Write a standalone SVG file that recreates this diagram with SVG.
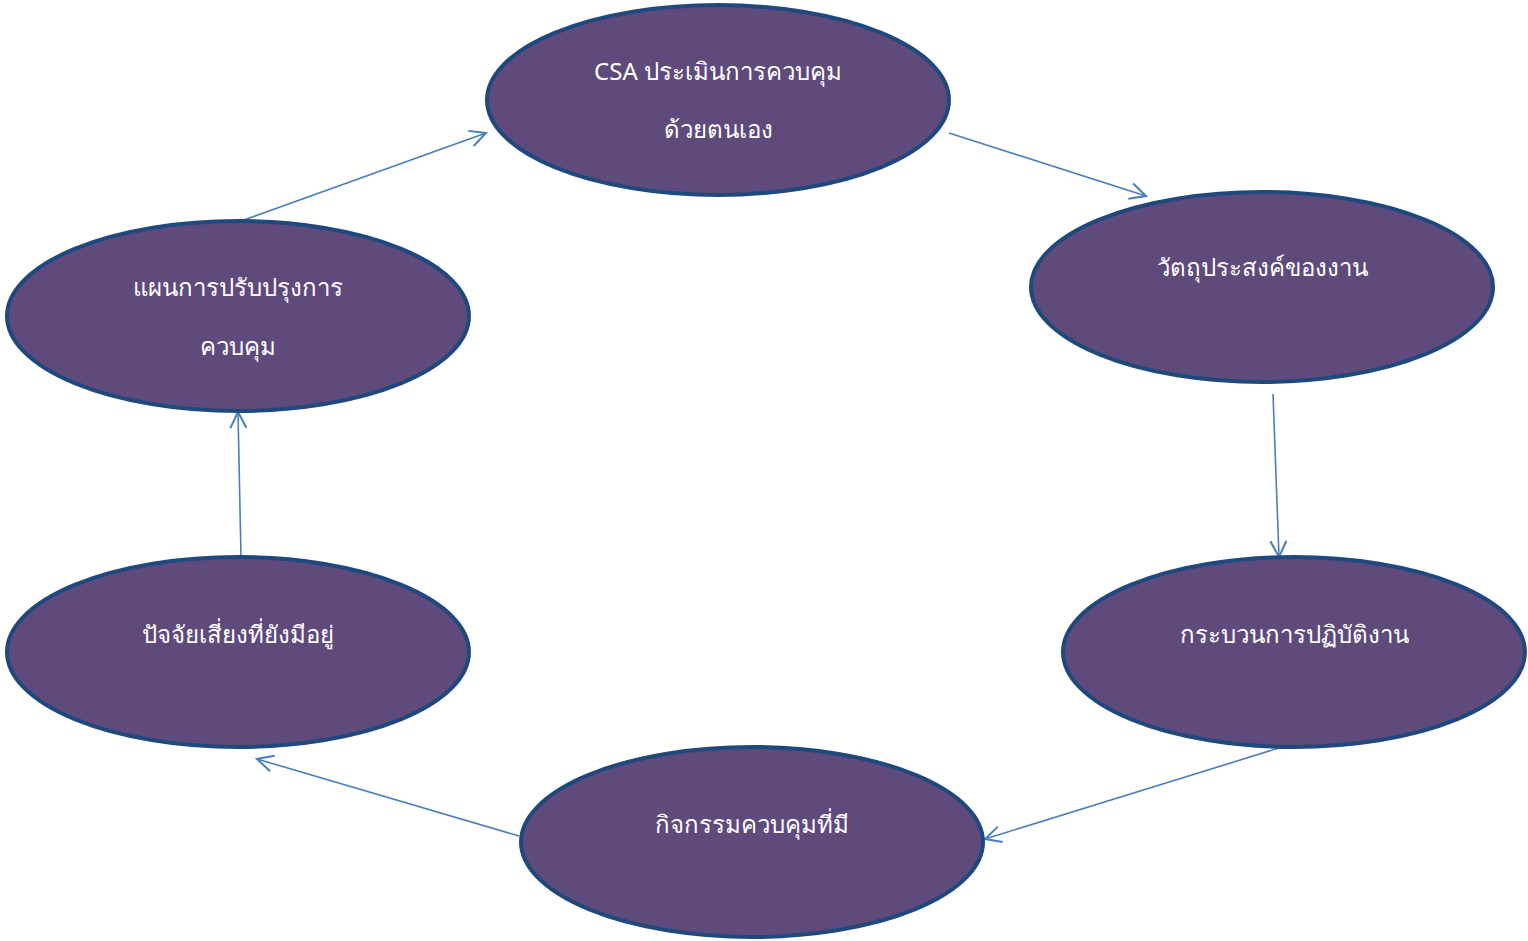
<svg xmlns="http://www.w3.org/2000/svg" width="1528" height="941" viewBox="0 0 1528 941">
<defs>
<marker id="ah" viewBox="0 0 20 20" refX="18" refY="10" markerWidth="20" markerHeight="20" markerUnits="userSpaceOnUse" orient="auto">
<path d="M2,2 L18,10 L2,18" fill="none" stroke="#4a7ebb" stroke-width="2"/>
</marker>
<style>
.n{fill:#5f4b7b;stroke:#1f497d;stroke-width:4}
.t{fill:#ffffff;font-family:"Noto Sans","DejaVu Sans","Liberation Sans",sans-serif;font-size:24px;text-anchor:middle}
.c{fill:none;stroke:#4a7ebb;stroke-width:1.6;marker-end:url(#ah)}
</style>
</defs>
<rect width="1528" height="941" fill="#ffffff"/>
<g id="connectors">
<line class="c" x1="241" y1="221" x2="486" y2="133"/>
<line class="c" x1="949" y1="133" x2="1146" y2="196"/>
<line class="c" x1="1273" y1="394" x2="1279" y2="557"/>
<line class="c" x1="1279" y1="748" x2="985" y2="839"/>
<line class="c" x1="519" y1="836" x2="257" y2="759"/>
<line class="c" x1="241" y1="557" x2="238" y2="412"/>
</g>
<g id="n1"><ellipse class="n" cx="718" cy="100" rx="231" ry="95"/>
<text class="t" x="718" y="80">CSA ประเมินการควบคุม</text>
<text class="t" x="718" y="138">ด้วยตนเอง</text></g>
<g id="n2"><ellipse class="n" cx="1262" cy="287" rx="231" ry="95"/>
<text class="t" x="1262" y="276">วัตถุประสงค์ของงาน</text></g>
<g id="n3"><ellipse class="n" cx="1294" cy="652" rx="231" ry="95"/>
<text class="t" x="1294" y="643">กระบวนการปฏิบัติงาน</text></g>
<g id="n4"><ellipse class="n" cx="752" cy="842" rx="231" ry="95"/>
<text class="t" x="752" y="833">กิจกรรมควบคุมที่มี</text></g>
<g id="n5"><ellipse class="n" cx="238" cy="652" rx="231" ry="95"/>
<text class="t" x="238" y="643">ปัจจัยเสี่ยงที่ยังมีอยู่</text></g>
<g id="n6"><ellipse class="n" cx="238" cy="316" rx="231" ry="95"/>
<text class="t" x="238" y="296">แผนการปรับปรุงการ</text>
<text class="t" x="238" y="355">ควบคุม</text></g>
</svg>
